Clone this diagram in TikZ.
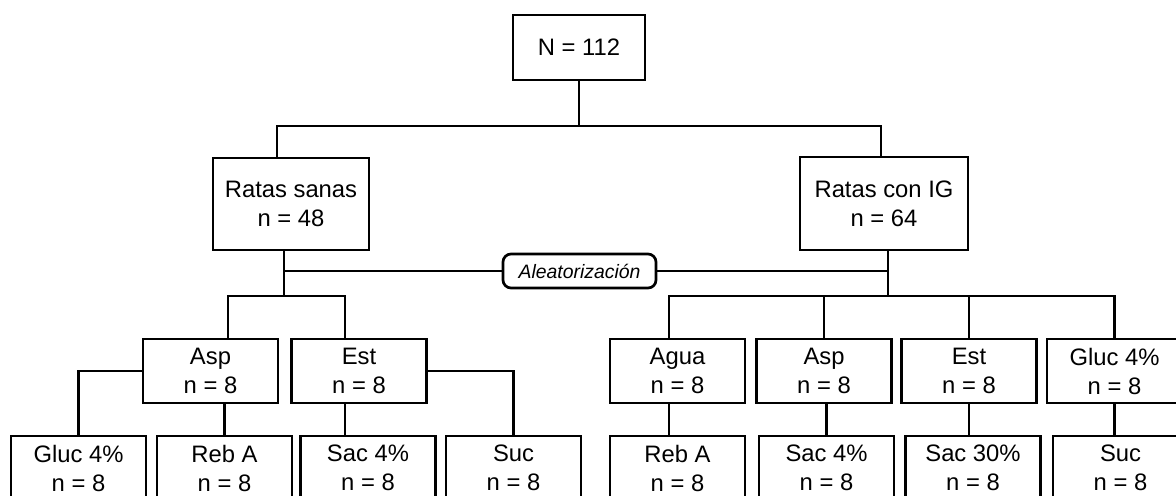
\documentclass[tikz,border=0pt]{standalone}
\usepackage{fontspec}
\setmainfont{Liberation Sans}
\usetikzlibrary{positioning, calc}

\begin{document}
\begin{tikzpicture}[
  x=0.5pt, y=-0.5pt,
  grp/.style={draw, line width=1.35pt, minimum width=67.5pt, minimum height=32pt, inner sep=0pt, align=center, font=\fontsize{11.9}{14.5}\selectfont},
  randbox/.style={draw, line width=1.35pt, rounded corners=4pt, fill=white, minimum width=76.5pt, minimum height=17pt, inner sep=0pt, font=\fontsize{9.7}{11}\selectfont\itshape},
  link/.style={line width=1.15pt}
]

\useasboundingbox (0,0) rectangle (1176,495);
\clip (0,0) rectangle (1176,495);

\node[grp, minimum width=66pt, minimum height=32.5pt] (g-root) at (579,47.5) {N = 112};
\node[grp, minimum width=78pt, minimum height=46pt] (g-sanas) at (291,204) {Ratas sanas\\n = 48};
\node[grp, minimum width=84pt, minimum height=46.5pt] (g-ig) at (884,203.5) {Ratas con IG\\n = 64};
\node[randbox] (g-rand) at (579.5,271) {Aleatorización};

% grupos de tratamiento
\node[grp] (m-asp1)  at (210.5,371)  {Asp\\n = 8};
\node[grp] (m-est1)  at (359,371)    {Est\\n = 8};
\node[grp] (m-agua)  at (677.5,371)  {Agua\\n = 8};
\node[grp] (m-asp2)  at (824,371)    {Asp\\n = 8};
\node[grp] (m-est2)  at (969,371)    {Est\\n = 8};
\node[grp] (m-gluc2) at (1114.5,371) {Gluc 4\%\\n = 8};

\node[grp] (t-gluc1) at (78.5,468)   {Gluc 4\%\\n = 8};
\node[grp] (t-reb1)  at (224.5,468)  {Reb A\\n = 8};
\node[grp] (t-sac1)  at (368,468)    {Sac 4\%\\n = 8};
\node[grp] (t-suc1)  at (513.5,468)  {Suc\\n = 8};
\node[grp] (t-reb2)  at (677.5,468)  {Reb A\\n = 8};
\node[grp] (t-sac2)  at (826.5,468)  {Sac 4\%\\n = 8};
\node[grp] (t-sac30) at (973,468)    {Sac 30\%\\n = 8};
\node[grp] (t-suc2)  at (1120.5,468) {Suc\\n = 8};

\coordinate (j-top)   at (579,126);
\coordinate (j-sanas) at (284,296);
\coordinate (j-ig)    at (888,296);

\draw[link] (g-root.south) -- (j-top);
\draw[link] ([xshift=-7pt]g-sanas.north) |- (j-top) -| ([xshift=-1.5pt]g-ig.north);
\draw[link] ([xshift=-3.5pt]g-sanas.south) -- (j-sanas);
\draw[link] ([xshift=2pt]g-ig.south) -- (j-ig);
\draw[link] (j-sanas |- g-rand) -- (g-rand.west);
\draw[link] (g-rand.east) -- (j-ig |- g-rand);

\draw[link] ([xshift=8.75pt]m-asp1.north) |- (j-sanas) -| ([xshift=-7pt]m-est1.north);
\draw[link] ([xshift=-4.25pt]m-agua.north) |- (j-ig) -| (m-gluc2.north);
\draw[link] (m-asp2.north) -- (m-asp2.north |- j-ig);
\draw[link] (m-est2.north) -- (m-est2.north |- j-ig);

\draw[link] (m-asp1.west) -| (t-gluc1.north);
\draw[link] (t-reb1.north) -- (t-reb1.north |- m-asp1.south);
\draw[link] ([xshift=-7pt]m-est1.south) -- ([xshift=-7pt]m-est1.south |- t-sac1.north);
\draw[link] (m-est1.east) -| (t-suc1.north);
\draw[link] ([xshift=-4.25pt]m-agua.south) -- ([xshift=-4.25pt]t-reb2.north);
\draw[link] (t-sac2.north) -- (t-sac2.north |- m-asp2.south);
\draw[link] (m-est2.south) -- (m-est2.south |- t-sac30.north);
\draw[link] (m-gluc2.south) -- (m-gluc2.south |- t-suc2.north);

\end{tikzpicture}
\end{document}
